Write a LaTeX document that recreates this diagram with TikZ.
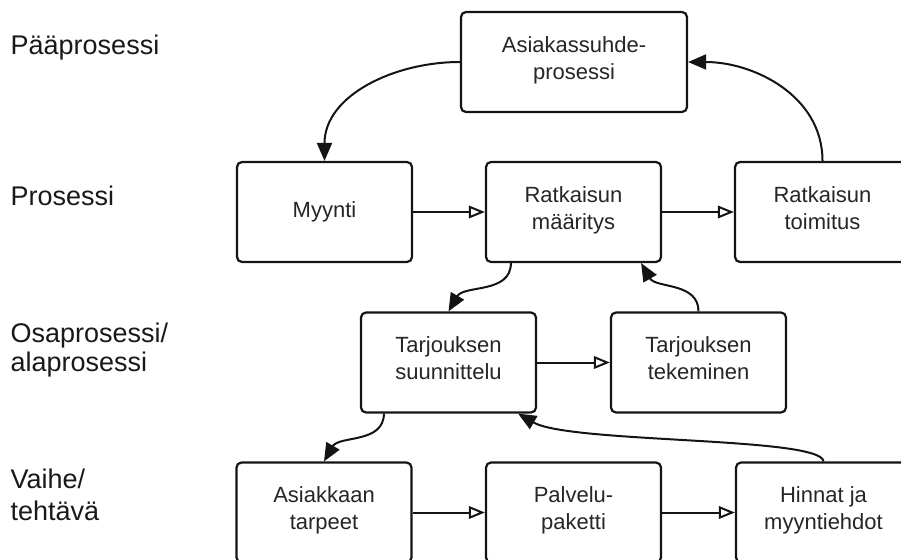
\documentclass[tikz,border=0pt]{standalone}
\usepackage{fontspec}
\setmainfont{Liberation Sans}
\usetikzlibrary{arrows.meta}
\begin{document}
\begin{tikzpicture}[x=1pt,y=1pt,
  box/.style={draw=black!92, line width=2.2pt, fill=white, rounded corners=5pt,
    minimum width=175pt, minimum height=100pt, inner sep=0pt, align=center,
    text=black!85, font=\fontsize{22}{27}\selectfont},
  lvl/.style={anchor=base west, inner sep=0pt, text=black!90, font=\fontsize{27}{31}\selectfont},
  flow/.style={draw=black!92, line width=2pt, -{Triangle[open, length=16pt, width=12.5pt]}},
  link/.style={draw=black!92, line width=2pt, -{Triangle[length=18pt, width=15pt]}}]
\useasboundingbox (0,0) rectangle (901,-559);
\clip (0,0) rectangle (901,-559);

% level labels
\node[lvl] (l1)  at (10.5,-55)  {Pääprosessi};
\node[lvl] (l2)  at (10.5,-205) {Prosessi};
\node[lvl] (l3a) at (10.5,-342) {Osaprosessi/};
\node[lvl] (l3b) at (10.5,-371) {alaprosessi};
\node[lvl] (l4a) at (10.5,-488) {Vaihe/};
\node[lvl] (l4b) at (10.5,-520) {tehtävä};

% boxes
\node[box, minimum width=226pt] (top) at (574,-62) {Asiakassuhde-\\prosessi\strut};
\node[box] (myynti)      at (324.5,-212)   {Myynti\strut};
\node[box] (maaritys)    at (573.5,-212)   {Ratkaisun\\määritys\strut};
\node[box] (toimitus)    at (822.5,-212)   {Ratkaisun\\toimitus\strut};
\node[box] (suunnittelu) at (448.5,-362.5) {Tarjouksen\\suunnittelu\strut};
\node[box] (tekeminen)   at (698.5,-362.5) {Tarjouksen\\tekeminen\strut};
\node[box] (tarpeet)     at (324,-512.5)   {Asiakkaan\\tarpeet\strut};
\node[box] (paketti)     at (573.5,-512.5) {Palvelu-\\paketti\strut};
\node[box] (hinnat)      at (823.5,-512.5) {Hinnat ja\\myyntiehdot\strut};

% straight flow arrows
\draw[flow] (myynti.east) -- (maaritys.west);
\draw[flow] (maaritys.east) -- (toimitus.west);
\draw[flow] (suunnittelu.east) -- (tekeminen.west);
\draw[flow] (tarpeet.east) -- (paketti.west);
\draw[flow] (paketti.east) -- (hinnat.west);

% curved links
\coordinate (m1) at ([xshift=26pt]maaritys.south west);
\coordinate (m2) at ([xshift=-21pt]maaritys.south east);
\coordinate (s1) at ([xshift=24pt]suunnittelu.south west);
\coordinate (s2) at ([xshift=-19pt]suunnittelu.south east);

\draw[link] (top.west) to[out=180,in=90] (myynti.north);
\draw[link] (toimitus.north) to[out=90,in=0] (top.east);
\draw[link] (m1) to[out=-90,in=60] (suunnittelu.north);
\draw[link] (tekeminen.north) to[out=90,in=-60] (m2);
\draw[link] (s1) to[out=-90,in=60] (tarpeet.north);
\draw[link] (hinnat.north) to[out=95,in=-30,out distance=25pt,in distance=60pt] (s2);
\end{tikzpicture}
\end{document}
